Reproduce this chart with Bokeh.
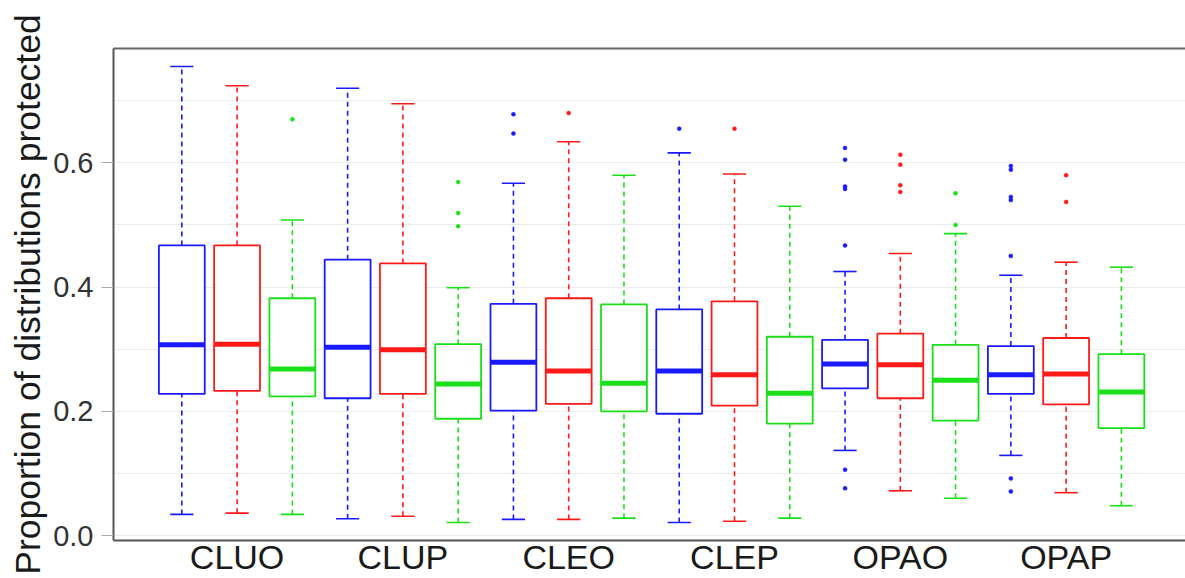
from bokeh.plotting import figure
from bokeh.models import ColumnDataSource, FixedTicker, LinearAxis, Range1d, PrintfTickFormatter
from bokeh.embed import file_html
from bokeh.resources import INLINE

# ---- data ----
groups = ["CLUO", "CLUP", "CLEO", "CLEP", "OPAO", "OPAP"]
series = ["blue", "red", "green"]  # three boxes per group

lower_whisker = [0.034, 0.036, 0.034, 0.027, 0.031, 0.021, 0.026, 0.026, 0.028,
                 0.021, 0.023, 0.028, 0.137, 0.072, 0.060, 0.129, 0.069, 0.048]
q1 = [0.228, 0.233, 0.224, 0.221, 0.228, 0.188, 0.201, 0.212, 0.200,
      0.196, 0.209, 0.180, 0.237, 0.221, 0.185, 0.228, 0.211, 0.173]
median = [0.307, 0.308, 0.268, 0.303, 0.299, 0.244, 0.279, 0.265, 0.245,
          0.265, 0.259, 0.229, 0.276, 0.275, 0.250, 0.259, 0.260, 0.231]
q3 = [0.467, 0.467, 0.382, 0.444, 0.438, 0.308, 0.373, 0.382, 0.372,
      0.364, 0.377, 0.320, 0.315, 0.325, 0.307, 0.305, 0.318, 0.292]
upper_whisker = [0.755, 0.724, 0.508, 0.720, 0.695, 0.399, 0.567, 0.634, 0.580,
                 0.616, 0.582, 0.530, 0.425, 0.454, 0.486, 0.419, 0.440, 0.432]
outliers = [
    [], [], [0.670],
    [], [], [0.569, 0.519, 0.498],
    [0.678, 0.647], [0.680], [],
    [0.655], [0.655], [],
    [0.624, 0.605, 0.562, 0.558, 0.467, 0.106, 0.076], [0.613, 0.597, 0.564, 0.553], [0.551, 0.500],
    [0.595, 0.589, 0.545, 0.540, 0.450, 0.092, 0.071], [0.580, 0.537], [],
]
y_ticks = [0.0, 0.2, 0.4, 0.6]
grid_ticks = [0.0, 0.1, 0.2, 0.3, 0.4, 0.5, 0.6, 0.7]

# ---- styling ----
palette = {"blue": "#1a1aff", "red": "#ff1a1a", "green": "#1ae01a"}
FONT = "Liberation Sans"
BOX_W = 0.83
CAP_W = 0.42

n = len(groups) * len(series)
xs = [i + 1 for i in range(n)]
cols = [palette[series[i % 3]] for i in range(n)]

src = ColumnDataSource(dict(
    x=xs, lw=lower_whisker, q1=q1, med=median, q3=q3, uw=upper_whisker, color=cols,
    x0=[x - BOX_W / 2 for x in xs], x1=[x + BOX_W / 2 for x in xs],
    c0=[x - CAP_W / 2 for x in xs], c1=[x + CAP_W / 2 for x in xs],
))

ox, oy, oc = [], [], []
for i, outs in enumerate(outliers):
    for v in outs:
        ox.append(xs[i]); oy.append(v); oc.append(cols[i])
osrc = ColumnDataSource(dict(x=ox, y=oy, color=oc))

p = figure(width=1185, height=578, output_backend="svg", toolbar_location=None,
           x_range=Range1d(-0.236, 19.16), y_range=Range1d(-0.008, 0.784),
           min_border_left=113, min_border_top=48, min_border_right=0, min_border_bottom=0)
p.outline_line_color = None
p.background_fill_color = "white"
p.border_fill_color = "white"

# gridlines
p.xgrid.visible = False
p.ygrid.ticker = FixedTicker(ticks=grid_ticks)
p.ygrid.grid_line_color = "#ececec"
p.ygrid.grid_line_width = 1.2

# whiskers
p.segment(x0="x", y0="q3", x1="x", y1="uw", source=src, line_color="color",
          line_width=1.6, line_dash="5 4")
p.segment(x0="x", y0="lw", x1="x", y1="q1", source=src, line_color="color",
          line_width=1.6, line_dash="5 4")
# caps
p.segment(x0="c0", y0="uw", x1="c1", y1="uw", source=src, line_color="color", line_width=1.6)
p.segment(x0="c0", y0="lw", x1="c1", y1="lw", source=src, line_color="color", line_width=1.6)
# boxes
p.vbar(x="x", width=BOX_W, bottom="q1", top="q3", source=src, fill_color="white",
       line_color="color", line_width=1.8)
# medians
p.segment(x0="x0", y0="med", x1="x1", y1="med", source=src, line_color="color", line_width=5)
# outliers
p.scatter(x="x", y="y", source=osrc, size=4, fill_color="color", line_color="color",
          line_width=0.5)

# axes
ya = p.yaxis[0]
ya.ticker = FixedTicker(ticks=y_ticks)
ya.formatter = PrintfTickFormatter(format="%.1f")
ya.axis_label = "Proportion of distributions protected"
ya.axis_label_text_font = FONT
ya.axis_label_text_font_size = "35.5px"
ya.axis_label_text_font_style = "normal"
ya.axis_label_text_color = "#1a1a1a"
ya.axis_label_standoff = 2
ya.major_label_text_font = FONT
ya.major_label_text_font_size = "29px"
ya.major_label_text_color = "#333333"
ya.major_label_standoff = 8
ya.major_tick_out = 12
ya.major_tick_in = 0
ya.major_tick_line_color = "#aaaaaa"
ya.minor_tick_out = 0
ya.minor_tick_in = 0
ya.axis_line_color = "#555555"
ya.axis_line_width = 2

xa = p.xaxis[0]
xa.ticker = FixedTicker(ticks=[g * 3 + 2 for g in range(len(groups))])
xa.major_label_overrides = {g * 3 + 2: name for g, name in enumerate(groups)}
xa.major_label_text_font = FONT
xa.major_label_text_font_size = "34px"
xa.major_label_text_color = "#1a1a1a"
xa.major_label_standoff = -3
xa.major_tick_out = 0
xa.major_tick_in = 0
xa.minor_tick_out = 0
xa.minor_tick_in = 0
xa.axis_line_color = "#555555"
xa.axis_line_width = 2

top = LinearAxis(ticker=FixedTicker(ticks=[]), major_tick_out=0, major_tick_in=0,
                 minor_tick_out=0, minor_tick_in=0, major_label_text_font_size="0px",
                 axis_line_color="#666666", axis_line_width=2)
p.add_layout(top, "above")

open("out.html", "w").write(file_html(p, INLINE))
